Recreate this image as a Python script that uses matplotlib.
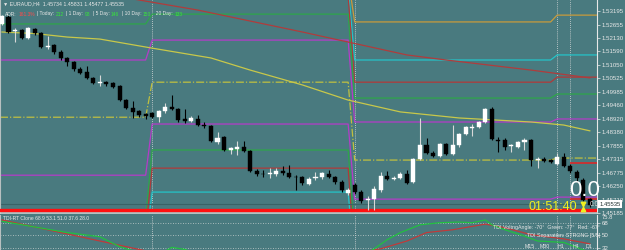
import numpy as np
import matplotlib.pyplot as plt

plt.rcParams['font.family'] = ['Liberation Sans', 'DejaVu Sans']

# EURAUD H4 candles
opens = [1.5268, 1.5296, 1.5240, 1.5244, 1.5212, 1.5248, 1.5232, 1.5176, 1.5184, 1.5157,
         1.5133, 1.5117, 1.5089, 1.5077, 1.5053, 1.5033, 1.5037, 1.5033, 1.5021, 1.4966,
         1.4934, 1.4922, 1.4910, 1.4914, 1.4898, 1.4922, 1.4938, 1.4930, 1.4891, 1.4883,
         1.4891, 1.4867, 1.4863, 1.4799, 1.4819, 1.4768, 1.4771, 1.4779, 1.4764, 1.4684,
         1.4672, 1.4672, 1.4672, 1.4684, 1.4676, 1.4660, 1.4660, 1.4632, 1.4656, 1.4660,
         1.4672, 1.4660, 1.4640, 1.4597, 1.4628, 1.4601, 1.4569, 1.4573, 1.4609, 1.4664,
         1.4654, 1.4656, 1.4672, 1.4640, 1.4732, 1.4787, 1.4756, 1.4744, 1.4791, 1.4752,
         1.4787, 1.4831, 1.4857, 1.4859, 1.4879, 1.4930, 1.4807, 1.4807, 1.4783, 1.4779,
         1.4799, 1.4807, 1.4728, 1.4732, 1.4728, 1.4712, 1.4740, 1.4704, 1.4680, 1.4648,
         1.4573]
highs = [1.5303, 1.5303, 1.5252, 1.5248, 1.5256, 1.5252, 1.5236, 1.5220, 1.5188, 1.5164,
         1.5137, 1.5121, 1.5097, 1.5101, 1.5057, 1.5065, 1.5041, 1.5037, 1.5025, 1.4970,
         1.4962, 1.4926, 1.4914, 1.4918, 1.4926, 1.4954, 1.4986, 1.4934, 1.4930, 1.4902,
         1.4906, 1.4879, 1.4867, 1.4839, 1.4823, 1.4779, 1.4803, 1.4803, 1.4768, 1.4692,
         1.4688, 1.4696, 1.4696, 1.4704, 1.4708, 1.4668, 1.4664, 1.4660, 1.4680, 1.4680,
         1.4688, 1.4664, 1.4648, 1.4617, 1.4636, 1.4609, 1.4585, 1.4625, 1.4680, 1.4684,
         1.4664, 1.4680, 1.4688, 1.4736, 1.4894, 1.4815, 1.4764, 1.4795, 1.4795, 1.4867,
         1.4835, 1.4863, 1.4871, 1.4883, 1.4934, 1.4938, 1.4819, 1.4815, 1.4791, 1.4803,
         1.4815, 1.4811, 1.4740, 1.4740, 1.4732, 1.4756, 1.4756, 1.4712, 1.4688, 1.4656,
         1.4577]
lows = [1.5264, 1.5232, 1.5196, 1.5208, 1.5208, 1.5224, 1.5172, 1.5168, 1.5149, 1.5125,
        1.5101, 1.5081, 1.5069, 1.5049, 1.5029, 1.5021, 1.5021, 1.5013, 1.4962, 1.4930,
        1.4894, 1.4898, 1.4891, 1.4894, 1.4879, 1.4914, 1.4926, 1.4879, 1.4875, 1.4879,
        1.4863, 1.4855, 1.4799, 1.4791, 1.4764, 1.4752, 1.4748, 1.4760, 1.4680, 1.4664,
        1.4660, 1.4656, 1.4664, 1.4668, 1.4656, 1.4609, 1.4628, 1.4628, 1.4648, 1.4652,
        1.4656, 1.4632, 1.4601, 1.4589, 1.4593, 1.4557, 1.4529, 1.4529, 1.4601, 1.4648,
        1.4648, 1.4652, 1.4632, 1.4636, 1.4728, 1.4752, 1.4740, 1.4740, 1.4748, 1.4748,
        1.4779, 1.4827, 1.4823, 1.4855, 1.4875, 1.4807, 1.4760, 1.4768, 1.4760, 1.4775,
        1.4768, 1.4704, 1.4696, 1.4720, 1.4716, 1.4708, 1.4700, 1.4676, 1.4640, 1.4565,
        1.4541]
closes = [1.5300, 1.5236, 1.5244, 1.5212, 1.5252, 1.5232, 1.5176, 1.5180, 1.5157, 1.5133,
          1.5117, 1.5089, 1.5073, 1.5053, 1.5033, 1.5037, 1.5029, 1.5017, 1.4966, 1.4934,
          1.4918, 1.4906, 1.4902, 1.4898, 1.4922, 1.4938, 1.4930, 1.4887, 1.4883, 1.4894,
          1.4867, 1.4863, 1.4803, 1.4815, 1.4768, 1.4775, 1.4779, 1.4764, 1.4684, 1.4672,
          1.4671, 1.4673, 1.4684, 1.4676, 1.4660, 1.4659, 1.4636, 1.4652, 1.4660, 1.4676,
          1.4660, 1.4640, 1.4609, 1.4609, 1.4601, 1.4565, 1.4571, 1.4613, 1.4664, 1.4652,
          1.4656, 1.4672, 1.4636, 1.4732, 1.4787, 1.4756, 1.4744, 1.4791, 1.4752, 1.4787,
          1.4831, 1.4859, 1.4859, 1.4879, 1.4930, 1.4811, 1.4805, 1.4779, 1.4783, 1.4799,
          1.4807, 1.4728, 1.4732, 1.4724, 1.4720, 1.4740, 1.4704, 1.4684, 1.4656, 1.4569,
          1.4549]

# pivot levels, one value per period (period starts at these candles)
period_start = [0, 23, 54, 85]
gold_up = [1.5550, 1.5450, 1.5276, 1.5303]
cyan_up = [1.5450, 1.5420, 1.5125, 1.5145]
red_up = [1.5390, 1.5379, 1.5037, 1.5057]
green_up = [1.5268, 1.5307, 1.4974, 1.4990]
purple_up = [1.5125, 1.5204, 1.4879, 1.4891]
pivot = [1.4898, 1.5037, 1.4728, 1.4736]
purple_dn = [1.4668, 1.4871, 1.4573, 1.4581]
green_dn = [1.4500, 1.4768, 1.4420, 1.4430]
red_dn = [1.4450, 1.4696, 1.4350, 1.4360]
cyan_dn = [1.4400, 1.4601, 1.4300, 1.4300]

# moving averages
ma_fast_x = [0, 5, 10, 15, 23, 32, 38, 46, 53, 61, 70, 81, 86, 90]
ma_fast = [1.5236, 1.5230, 1.5216, 1.5208, 1.5172, 1.5133, 1.5085, 1.5026, 1.4966,
           1.4919, 1.4895, 1.4879, 1.4867, 1.4844]
ma_slow_x = [15, 21, 30, 46, 62, 68, 81, 90]
ma_slow = [1.5390, 1.5363, 1.5323, 1.5236, 1.5145, 1.5125, 1.5085, 1.5054]

today_hi, today_lo = 1.4716, 1.4573
adr_line = 1.4529
bid = 1.45535

price_ticks = [1.53195, 1.52655, 1.52130, 1.51590, 1.51050, 1.50525, 1.49985, 1.49460,
               1.48920, 1.48380, 1.47855, 1.47315, 1.46775, 1.46250, 1.45710, 1.45185]
separators = [23, 54, 85, 87]

# TDI sub window
tdi_green_x = [0, 5, 10, 15, 18, 21, 24, 26, 28, 31, 40, 50, 56, 57, 59, 61, 64, 67, 70,
               72, 74, 75, 77, 80, 82, 86, 88, 90]
tdi_green = [70, 62, 54, 48, 34, 25, 22, 33, 30, 20, 15, 18, 25, 31, 44, 54, 65, 68, 69,
             68, 72, 65, 58, 49, 42, 40, 33, 26]
tdi_red_x = [0, 10, 20, 25, 40, 50, 58, 62, 65, 69, 74, 77, 81, 86, 90]
tdi_red = [72, 52, 32, 22, 12, 18, 31, 42, 54, 58, 66, 61, 51, 45, 38]

adr_labels = ['ADR:', '| Today:', '| 1 Day:', '| 5 Day:', '| 10 Day:', '  20 Day:']
adr_values = ['161.3%', '212', '98', '146', '150', '133']

bg = '#497a7f'
xmin, xmax = -0.3, 91.1

fig = plt.figure(figsize=(6.25, 2.5), dpi=100)
fig.patch.set_facecolor(bg)
ax = fig.add_axes([0, 37 / 250, 597 / 625, 213 / 250])
ax2 = fig.add_axes([0, 0, 597 / 625, 35 / 250])
for a in (ax, ax2):
    a.set_facecolor(bg)
    a.set_xlim(xmin, xmax)
    a.set_xticks([])
    for s in a.spines.values():
        s.set_visible(False)
    a.spines['right'].set_visible(True)
    a.spines['right'].set_color('#e8e8e8')
    a.spines['right'].set_linewidth(0.8)
    a.spines['left'].set_visible(True)
    a.spines['left'].set_color('#b8c0c0')
    a.yaxis.tick_right()
    a.tick_params(axis='y', labelsize=4.4, colors='#e8e8e8', length=2, width=0.5, pad=1.5)
    for xv in separators:
        a.axvline(xv, color='#dcdcdc', lw=0.6, ls=(0, (1, 1.5)), zorder=1)

ax.spines['bottom'].set_visible(True)
ax.spines['bottom'].set_color('#c8d0d0')
ax.spines['bottom'].set_linewidth(1.2)


def step_level(vals):
    px, py = [], []
    for k, v in enumerate(vals):
        s = xmin if k == 0 else period_start[k]
        e = period_start[k + 1] - 1 if k + 1 < len(vals) else xmax
        px += [s, e]
        py += [v, v]
    return px, py


for vals, col, ls in [(gold_up, '#c89b3c', '-'), (cyan_up, '#24c4c8', '-'),
                      (red_up, '#b03a3a', '-'), (green_up, '#2ea64a', '-'),
                      (purple_up, '#b43cc8', '-'), (pivot, '#c0c040', '-.'),
                      (purple_dn, '#b43cc8', '-'), (green_dn, '#2ea64a', '-'),
                      (red_dn, '#b03a3a', '-'), (cyan_dn, '#24c4c8', '-')]:
    px, py = step_level(vals)
    ax.plot(px, py, color=col, lw=0.9, ls=ls, zorder=2)

ax.plot(ma_fast_x, ma_fast, color='#c8c84a', lw=0.9, zorder=2)
ax.plot(ma_slow_x, ma_slow, color='#b03c3c', lw=0.9, zorder=2)

ax.hlines([today_hi, today_lo], separators[-1], xmax, color='#e82020', lw=1.1, zorder=3)
ax.axhline(bid, color='#3a6266', lw=0.8, zorder=2)
ax.axhline(adr_line, color='#ff1010', lw=2.4, zorder=3)

# candles
o = np.array(opens)
c = np.array(closes)
xs = np.arange(len(c))
up = c >= o
body_col = np.where(up, '#ffffff', '#000000')
wick_col = np.where(up, '#d8d8d8', '#000000')
bottoms = np.minimum(o, c)
heights = np.maximum(np.abs(c - o), 0.00035)
ax.vlines(xs, lows, highs, colors=wick_col, lw=0.8, zorder=4)
ax.bar(xs, heights, bottom=bottoms, width=0.62, color=body_col, edgecolor=body_col,
       linewidth=0.3, zorder=5)

ax.set_ylim(1.4518, 1.5363)
ax.set_yticks(price_ticks)
ax.set_yticklabels(['%.5f' % t for t in price_ticks])
ax.text(1.004, bid, '%.5f' % bid, transform=ax.get_yaxis_transform(), fontsize=4.2,
        color='#203030', va='center', ha='left',
        bbox=dict(boxstyle='square,pad=0.25', fc='#ffffff', ec='none'), clip_on=False)

# TDI panel
for lv in (68, 50, 32):
    ax2.axhline(lv, color='#c8d0d0', lw=0.6, ls=(0, (1, 2)))
ax2.plot(tdi_red_x, tdi_red, color='#c03a3a', lw=0.9)
ax2.plot(tdi_green_x, tdi_green, color='#22c040', lw=0.9)
ax2.set_ylim(29.2, 79)
ax2.set_yticks([68, 50, 32])
ax2.set_yticklabels(['68', '50', '32'])
ax2.text(1.008, 75.8, '75.8', transform=ax2.get_yaxis_transform(), fontsize=4.2,
         color='#e8e8e8', va='center', ha='left', clip_on=False)


def ptext(x, y, s, **kw):
    return fig.text(x / 625, 1 - y / 250, s, va='center', **kw)


ptext(3, 4, '\u25bc EURAUD,H4  1.45734 1.45831 1.45477 1.45535', fontsize=3.8, color='#e8e8e8')

# ADR row: each piece placed right after the previous one
white, green, redc = '#e8e8e8', '#38e838', '#ff4a4a'
prev = ptext(5, 14, adr_labels[0], fontsize=3.5, color=white)
for k in range(len(adr_labels)):
    if k > 0:
        prev = ax.annotate(adr_labels[k], xy=(1, 0.5), xycoords=last, xytext=(1.6, 0),
                           textcoords='offset points', fontsize=3.5, color=white,
                           va='center', ha='left', annotation_clip=False)
    last = ax.annotate(adr_values[k], xy=(1, 0.5), xycoords=prev, xytext=(1.2, 0),
                       textcoords='offset points', fontsize=3.5,
                       color=redc if k == 0 else green, va='center', ha='left',
                       annotation_clip=False)

ptext(585, 191, '0.0', fontsize=16, color='#ffffff', ha='center')
ptext(553, 207, '01:51:40', fontsize=9, color='#f0f020', ha='center')
# hourglass icon (no installed font has the glyph)
ax.plot([583 / 625], [1 - 203.5 / 250], marker='v', ms=3.2, color='#f0f020',
        transform=fig.transFigure, clip_on=False, zorder=6)
ax.plot([583 / 625], [1 - 209 / 250], marker='^', ms=3.2, color='#f0f020',
        transform=fig.transFigure, clip_on=False, zorder=6)
ptext(594, 205, '0.0', fontsize=4.8, color='#e0e0e0', ha='center')

ptext(3, 219, 'TDI-RT Clone 68.9 53.1 51.0 37.6 28.0', fontsize=3.6, color='#e8e8e8')
ptext(600, 228, 'TDI VoltngAngle: -70\u00b0  Green: -77\u00b0  Red: -67\u00b0', fontsize=3.8,
      color='#e8e8e8', ha='right')
ptext(600, 236, 'TDI Separation: STRONG [5/5]', fontsize=3.8, color='#e8e8e8', ha='right')
for x, s in [(530, 'M15'), (545, 'M30'), (561, 'H1'), (576, 'H4'), (589, 'D1')]:
    ptext(x, 247, s, fontsize=3.8, color='#e8e8e8', ha='center')

fig.savefig('out.png', dpi=100, facecolor=bg)
